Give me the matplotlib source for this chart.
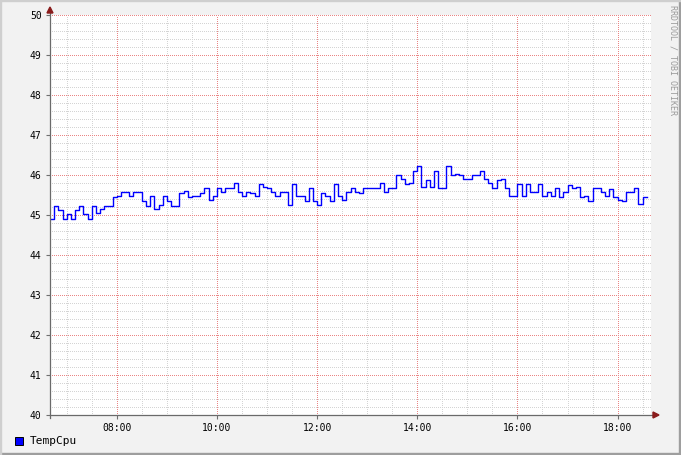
import matplotlib
matplotlib.use("Agg")
import matplotlib.pyplot as plt
from matplotlib.patches import Rectangle
from matplotlib.lines import Line2D
import numpy as np

# ---- data (5-minute averages, starting 06:40) ----
start_hour = 6 + 40 / 60.0
step_minutes = 5
temp_cpu = [
    44.90, 45.22, 45.12, 44.90, 45.02, 44.90, 45.12, 45.23, 45.02, 44.90,
    45.23, 45.04, 45.14, 45.23, 45.23, 45.44, 45.47, 45.58, 45.58, 45.47,
    45.58, 45.58, 45.36, 45.23, 45.47, 45.14, 45.25, 45.47, 45.36, 45.23,
    45.23, 45.56, 45.59, 45.45, 45.47, 45.47, 45.54, 45.67, 45.38, 45.47,
    45.67, 45.57, 45.67, 45.67, 45.79, 45.58, 45.47, 45.57, 45.54, 45.47,
    45.77, 45.69, 45.67, 45.58, 45.47, 45.58, 45.58, 45.24, 45.77, 45.47,
    45.47, 45.35, 45.67, 45.35, 45.24, 45.54, 45.47, 45.35, 45.77, 45.47,
    45.37, 45.58, 45.67, 45.58, 45.54, 45.67, 45.67, 45.67, 45.67, 45.79,
    45.58, 45.67, 45.67, 45.99, 45.89, 45.77, 45.79, 46.09, 46.22, 45.69,
    45.87, 45.69, 46.09, 45.67, 45.67, 46.22, 45.99, 46.02, 45.99, 45.89,
    45.89, 45.99, 45.99, 46.09, 45.89, 45.79, 45.67, 45.87, 45.89, 45.67,
    45.47, 45.47, 45.77, 45.47, 45.77, 45.58, 45.58, 45.77, 45.47, 45.58,
    45.47, 45.67, 45.44, 45.58, 45.74, 45.67, 45.69, 45.44, 45.47, 45.35,
    45.67, 45.67, 45.58, 45.47, 45.64, 45.44, 45.37, 45.35, 45.58, 45.58,
    45.67, 45.27, 45.44,
]
x_ticks = [8, 10, 12, 14, 16, 18]
x_tick_labels = ["08:00", "10:00", "12:00", "14:00", "16:00", "18:00"]
y_ticks = [40, 41, 42, 43, 44, 45, 46, 47, 48, 49, 50]
series_name = "TempCpu"
watermark = "RRDTOOL / TOBI OETIKER"

W, H = 681, 455
fig = plt.figure(figsize=(W / 100, H / 100), dpi=100)
fig.patch.set_facecolor("#f2f2f2")

def fx(x):
    return x / W

def fy(y):
    return 1 - y / H

# shading border
fig.add_artist(Rectangle((0, 0), 1, 2 / H, transform=fig.transFigure, color="#9e9e9e", zorder=0))
fig.add_artist(Rectangle((1 - 2 / W, 0), 2 / W, 1, transform=fig.transFigure, color="#9e9e9e", zorder=0))
fig.add_artist(Rectangle((0, 1 - 1 / H), 1, 1 / H, transform=fig.transFigure, color="#cfcfcf", zorder=0))
fig.add_artist(Rectangle((0, 0), 1 / W, 1, transform=fig.transFigure, color="#cfcfcf", zorder=0))

L, R, T, B = 50, 651, 15, 415
ax = fig.add_axes([fx(L), fy(B), fx(R) - fx(L), fy(T) - fy(B)])
ax.set_facecolor("white")

x0 = start_hour
x_end = x0 + 12.0
xs = x0 + np.arange(len(temp_cpu) + 1) * step_minutes / 60.0
ys = list(temp_cpu) + [temp_cpu[-1]]
ax.step(xs, ys, where="post", color="#0000ff", lw=1.0, zorder=5)

ax.set_xlim(x0, x_end)
ax.set_ylim(40, 50)

# grids
minor_col = "#d4d4d4"
major_col = "#ea8585"
glw = 0.72
dash = (0, (1, 2))
for v in np.arange(40, 50.001, 0.2):
    if abs(v - round(v)) > 1e-6:
        ax.axhline(v, color=minor_col, lw=glw, ls=dash, zorder=1, antialiased=False)
for v in y_ticks:
    ax.axhline(v, color=major_col, lw=glw, ls=dash, zorder=2, antialiased=False)
h = 7.0
while h < x_end:
    if h > x0 and all(abs(h - t) > 1e-6 for t in x_ticks):
        ax.axvline(h, color=minor_col, lw=glw, ls=dash, zorder=1, antialiased=False)
    h += 0.5
for v in x_ticks:
    ax.axvline(v, color=major_col, lw=glw, ls=dash, zorder=2, antialiased=False)

mono = "DejaVu Sans Mono"
ax.set_xticks(x_ticks)
ax.set_xticklabels(x_tick_labels, fontsize=7, family=mono)
ax.set_yticks(y_ticks)
ax.set_yticklabels([str(v) for v in y_ticks], fontsize=7, family=mono)
ax.tick_params(axis="both", length=3, width=0.8, color="#707070", pad=3)
for s in ["top", "right", "left", "bottom"]:
    ax.spines[s].set_visible(False)

# axis lines with arrows
axis_col = "#6a6a6a"
fig.add_artist(Line2D([fx(L), fx(R + 3)], [fy(B), fy(B)], transform=fig.transFigure, color=axis_col, lw=0.9, zorder=6))
fig.add_artist(Line2D([fx(L), fx(L)], [fy(B + 3), fy(T - 4)], transform=fig.transFigure, color=axis_col, lw=0.9, zorder=6))
arrow_col = "#8a1c1c"
fig.add_artist(plt.Polygon([[fx(L - 3), fy(T - 2)], [fx(L + 3), fy(T - 2)], [fx(L), fy(T - 8)]],
                           closed=True, transform=fig.transFigure, color=arrow_col, zorder=7))
fig.add_artist(plt.Polygon([[fx(R + 2), fy(B - 3)], [fx(R + 2), fy(B + 3)], [fx(R + 8), fy(B)]],
                           closed=True, transform=fig.transFigure, color=arrow_col, zorder=7))

# legend
fig.add_artist(Rectangle((fx(15), fy(445)), 8 / W, 8 / H, transform=fig.transFigure,
                         facecolor="#0000ff", edgecolor="black", lw=0.7, zorder=5))
fig.text(fx(30), fy(441), series_name, fontsize=8, family=mono, va="center", ha="left", color="black")

# watermark
fig.text(fx(673), fy(5), watermark, fontsize=6, family=mono, rotation=-90,
         va="top", ha="center", color="#9a9a9a")

fig.savefig("out.png", dpi=100, facecolor=fig.get_facecolor())
